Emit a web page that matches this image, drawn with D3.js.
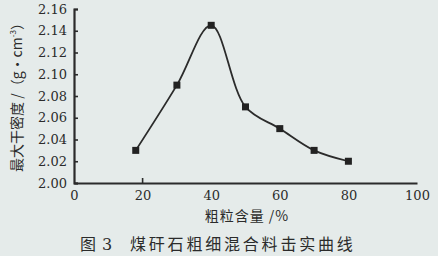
<!DOCTYPE html>
<html>
<head>
<meta charset="utf-8">
<script src="https://cdn.jsdelivr.net/npm/d3@7"></script>
<style>
  body { margin: 0; background: #e5ebea; }
  svg { display: block; }
</style>
</head>
<body>
<svg id="chart"></svg>
<script>
const W = 438, H = 256;

// data
const coarse = [18, 30, 40, 50, 60, 70, 80];
const density = [2.03, 2.09, 2.145, 2.07, 2.05, 2.03, 2.02];
const xTickLabels = [0, 20, 40, 60, 80, 100];
const yTickLabels = [2.00, 2.02, 2.04, 2.06, 2.08, 2.10, 2.12, 2.14, 2.16];

const ink = "#2b2b2b";
const serif = "'DejaVu Serif', 'Liberation Serif', serif";
const cjk = "'Noto Sans CJK SC', sans-serif";

const svg = d3.select("#chart")
    .attr("width", W)
    .attr("height", H);

svg.append("rect")
    .attr("width", W)
    .attr("height", H)
    .attr("fill", "#e5ebea");

const x = d3.scaleLinear().domain([0, 100]).range([74, 417]);
const y = d3.scaleLinear().domain([2.00, 2.16]).range([183, 9]);

// y axis, ticks pointing inward
const yAxis = svg.append("g")
    .attr("transform", `translate(${x(0)},0)`)
    .call(d3.axisLeft(y).tickValues(yTickLabels).tickSize(-4).tickPadding(7)
        .tickFormat(d3.format(".2f")));
yAxis.attr("font-family", serif).attr("font-size", 13);
yAxis.select(".domain").attr("stroke", ink).attr("stroke-width", 2.2);
yAxis.selectAll(".tick line").attr("stroke", ink).attr("stroke-width", 1.6);
yAxis.selectAll("text").attr("fill", ink);

// x axis: labels only, a single small tick at 20 as in the figure
const xAxis = svg.append("g")
    .attr("transform", `translate(0,${y(2.00)})`)
    .call(d3.axisBottom(x).tickValues(xTickLabels).tickSize(0).tickPadding(8));
xAxis.attr("font-family", serif).attr("font-size", 13);
xAxis.select(".domain").attr("stroke", ink).attr("stroke-width", 2.2);
xAxis.selectAll("text").attr("fill", ink);
xAxis.append("line")
    .attr("x1", x(20)).attr("x2", x(20))
    .attr("y1", 0).attr("y2", -5)
    .attr("stroke", ink)
    .attr("stroke-width", 1.6);

// curve
const pts = coarse.map((c, i) => [x(c), y(density[i])]);
svg.append("path")
    .attr("d", d3.line().curve(d3.curveCatmullRom.alpha(0.5))(pts))
    .attr("fill", "none")
    .attr("stroke", ink)
    .attr("stroke-width", 1.8);

svg.selectAll("rect.pt")
    .data(pts)
    .join("rect")
    .attr("class", "pt")
    .attr("x", d => d[0] - 3.5)
    .attr("y", d => d[1] - 3.5)
    .attr("width", 7)
    .attr("height", 7)
    .attr("fill", "#222");

// axis titles
const yt = svg.append("text")
    .attr("transform", "translate(22,94) rotate(-90)")
    .attr("text-anchor", "middle")
    .attr("font-family", cjk)
    .attr("font-size", 14)
    .attr("fill", ink);
yt.append("tspan").text("最大干密度 /（g·cm");
yt.append("tspan").attr("font-size", 8).attr("dy", -6).text("-3");
yt.append("tspan").attr("dy", 6).text("）");

svg.append("text")
    .attr("x", 247)
    .attr("y", 221)
    .attr("text-anchor", "middle")
    .attr("font-family", cjk)
    .attr("font-size", 14)
    .attr("letter-spacing", 1)
    .attr("fill", ink)
    .text("粗粒含量 /%");

// caption
svg.append("text")
    .attr("x", 80)
    .attr("y", 250)
    .attr("font-family", cjk)
    .attr("font-size", 16)
    .attr("fill", ink)
    .text("图");
svg.append("text")
    .attr("x", 102)
    .attr("y", 250)
    .attr("font-family", serif)
    .attr("font-size", 16)
    .attr("fill", ink)
    .text("3");
svg.append("text")
    .attr("x", 130)
    .attr("y", 250)
    .attr("font-family", cjk)
    .attr("font-size", 16)
    .attr("letter-spacing", 2.8)
    .attr("fill", ink)
    .text("煤矸石粗细混合料击实曲线");
</script>
</body>
</html>
